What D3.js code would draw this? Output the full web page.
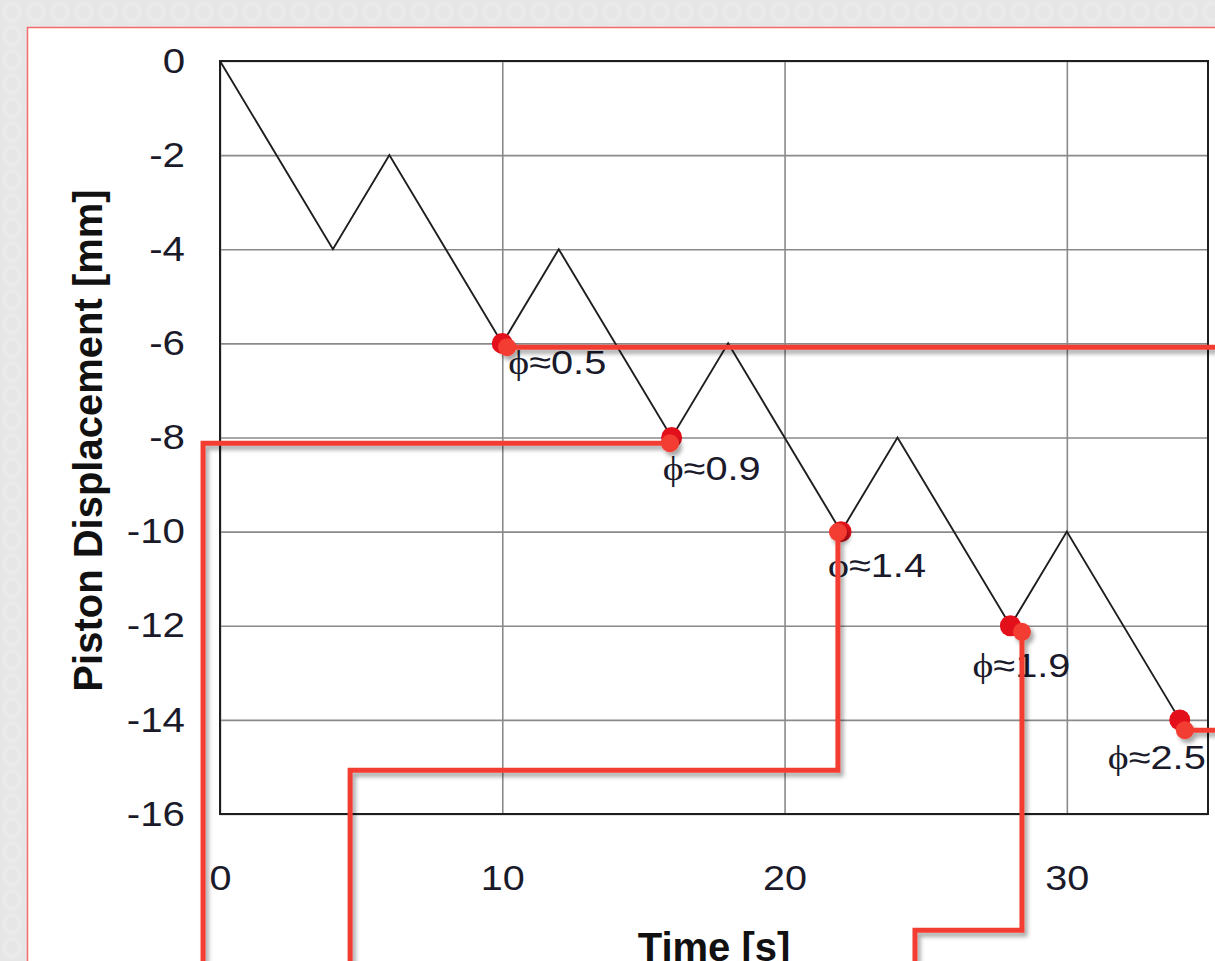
<!DOCTYPE html>
<html>
<head>
<meta charset="utf-8">
<script src="https://cdn.jsdelivr.net/npm/d3@7"></script>
<style>
  html, body { margin: 0; padding: 0; background: #e6e6e6; overflow: hidden; }
  svg { display: block; }
</style>
</head>
<body>
<svg id="chart" width="1215" height="961"></svg>
<script>
// ---------- data ----------
const time = [0, 4, 6, 10, 12, 16, 18, 22, 24, 28, 30, 34];
const displacement = [0, -4, -2, -6, -4, -8, -6, -10, -8, -12, -10, -14];
const timeTicks = [0, 10, 20, 30];
const dispTicks = [0, -2, -4, -6, -8, -10, -12, -14, -16];
const markedTime = [10, 16, 22, 28, 34];
const markedDisp = [-6, -8, -10, -12, -14];
const phiValues = ["0.5", "0.9", "1.4", "1.9", "2.5"];
const xTitle = "Time [s]";
const yTitle = "Piston Displacement [mm]";

// ---------- layout (annotation geometry, in data units) ----------
const calloutRoutes = [
  [[10.17, -6.08], [36.5, -6.08]],
  [[15.94, -8.12], [-0.6, -8.12], [-0.6, -19.5]],
  [[21.89, -10.01], [21.89, -15.07], [4.61, -15.07], [4.61, -19.5]],
  [[28.41, -12.13], [28.41, -18.47], [24.62, -18.47], [24.62, -19.5]],
  [[34.18, -14.22], [36.5, -14.22]]
];
const labelOffsets = [[6, 31], [-9, 42], [-13, 45], [-38, 51], [-72, 49]];

const svg = d3.select("#chart");
const W = 1215, H = 961;

// background & card
const defs = svg.append("defs");
const pat = defs.append("pattern").attr("id", "tex").attr("width", 24).attr("height", 24)
  .attr("patternUnits", "userSpaceOnUse");
pat.append("rect").attr("width", 24).attr("height", 24).attr("fill", "#e6e6e6");
pat.append("ellipse").attr("cx", 12).attr("cy", 12).attr("rx", 8).attr("ry", 9).attr("fill", "none")
  .attr("stroke", "#ececec").attr("stroke-width", 3);
const blur = defs.append("filter").attr("id", "soft");
blur.append("feGaussianBlur").attr("stdDeviation", 1.2);
const f = defs.append("filter").attr("id", "shadow").attr("x", "-20%").attr("y", "-20%")
  .attr("width", "140%").attr("height", "140%");
f.append("feDropShadow").attr("dx", 3).attr("dy", 4).attr("stdDeviation", 2.2)
  .attr("flood-color", "#000").attr("flood-opacity", 0.35);

svg.append("rect").attr("width", W).attr("height", H).attr("fill", "url(#tex)").attr("filter", "url(#soft)");
svg.append("rect").attr("x", 27.5).attr("y", 27.5).attr("width", W).attr("height", H)
  .attr("fill", "#fff").attr("stroke", "#f26a6a").attr("stroke-width", 1.5);

// scales
const x = d3.scaleLinear().domain([0, 35]).range([220, 1208]);
const y = d3.scaleLinear().domain([0, -16]).range([61, 814]);

const sans = "'Liberation Sans', Arial, Helvetica, sans-serif";
const fmt = d => String(d);
const widen = (sel, k) => sel.each(function () {
  const len = this.getComputedTextLength();
  d3.select(this).attr("textLength", len * k).attr("lengthAdjust", "spacingAndGlyphs");
});

// grid
svg.append("g").attr("transform", `translate(0,${y(-16)})`)
  .call(d3.axisBottom(x).tickValues(timeTicks).tickSize(-(y(-16) - y(0))).tickFormat(""))
  .call(g => g.select(".domain").remove())
  .call(g => g.selectAll("line").attr("stroke", "#8a8a8a").attr("stroke-width", 1.6));
svg.append("g").attr("transform", `translate(${x(0)},0)`)
  .call(d3.axisLeft(y).tickValues(dispTicks).tickSize(-(x(35) - x(0))).tickFormat(""))
  .call(g => g.select(".domain").remove())
  .call(g => g.selectAll("line").attr("stroke", "#8a8a8a").attr("stroke-width", 1.6));

// frame
svg.append("rect").attr("x", x(0)).attr("y", y(0))
  .attr("width", x(35) - x(0)).attr("height", y(-16) - y(0))
  .attr("fill", "none").attr("stroke", "#1e1e1e").attr("stroke-width", 2);

// axis labels
svg.append("g").attr("transform", `translate(${x(0)},0)`)
  .call(d3.axisLeft(y).tickValues(dispTicks).tickSize(0).tickPadding(35).tickFormat(fmt))
  .call(g => g.select(".domain").remove())
  .call(g => g.selectAll("text").attr("font-family", sans).attr("font-size", 35)
    .attr("fill", "#1a1a2a").call(widen, 1.15));
svg.append("g").attr("transform", `translate(0,${y(-16)})`)
  .call(d3.axisBottom(x).tickValues(timeTicks).tickSize(0).tickPadding(51).tickFormat(fmt))
  .call(g => g.select(".domain").remove())
  .call(g => g.selectAll("text").attr("font-family", sans).attr("font-size", 35)
    .attr("fill", "#1a1a2a").call(widen, 1.13));

// titles
svg.append("text").attr("x", (x(0) + x(35)) / 2).attr("y", 961)
  .attr("text-anchor", "middle").attr("font-family", sans).attr("font-weight", "bold")
  .attr("font-size", 40).attr("fill", "#111").text(xTitle);
svg.append("text").attr("transform", `translate(102,${(y(0) + y(-16)) / 2 + 3}) rotate(-90)`)
  .attr("text-anchor", "middle").attr("font-family", sans).attr("font-weight", "bold")
  .attr("font-size", 40).attr("fill", "#111").text(yTitle);

// data line
const pts = time.map((t, i) => [t, displacement[i]]);
svg.append("path").datum(pts)
  .attr("d", d3.line().x(d => x(d[0])).y(d => y(d[1])))
  .attr("fill", "none").attr("stroke", "#1e1e1e").attr("stroke-width", 1.9);

// phi labels
const marks = markedTime.map((t, i) => ({ t, d: markedDisp[i], phi: phiValues[i], off: labelOffsets[i] }));
const lbl = svg.append("g").selectAll("text").data(marks).join("text")
  .attr("x", d => x(d.t) + d.off[0]).attr("y", d => y(d.d) + d.off[1])
  .attr("font-family", sans).attr("font-size", 34).attr("fill", "#1a1a2a")
  .attr("textLength", 98).attr("lengthAdjust", "spacingAndGlyphs");
lbl.append("tspan").attr("font-family", "'Liberation Serif', 'DejaVu Serif', serif").text("\u03D5");
lbl.append("tspan").text(d => "\u2248" + d.phi);

// dark dots
svg.append("g").selectAll("circle").data(marks).join("circle")
  .attr("cx", d => x(d.t)).attr("cy", d => y(d.d)).attr("r", 10.5).attr("fill", "#e3101c");

// callouts
const routeLine = d3.line().x(d => x(d[0])).y(d => y(d[1]));
const cg = svg.append("g").attr("filter", "url(#shadow)");
cg.selectAll("path").data(calloutRoutes).join("path")
  .attr("d", routeLine).attr("fill", "none").attr("stroke", "#f43c30")
  .attr("stroke-width", 5).attr("stroke-linejoin", "miter");
cg.selectAll("circle").data(calloutRoutes).join("circle")
  .attr("cx", d => x(d[0][0])).attr("cy", d => y(d[0][1])).attr("r", 9).attr("fill", "#f43c30");
</script>
</body>
</html>
